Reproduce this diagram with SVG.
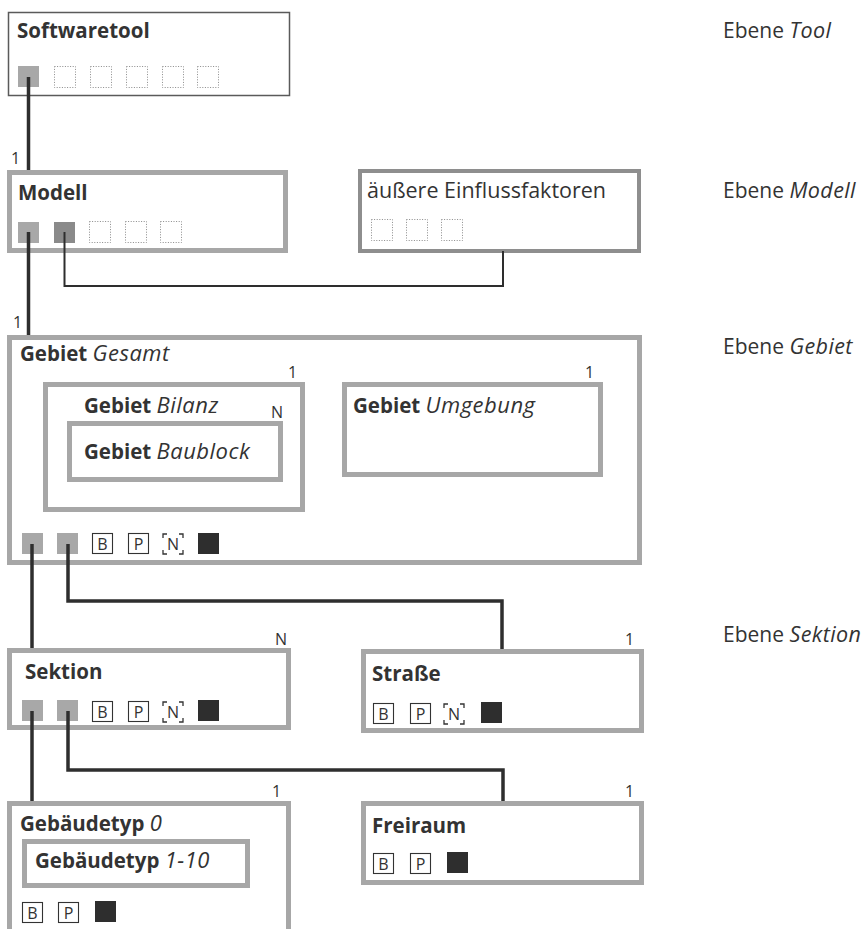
<svg xmlns="http://www.w3.org/2000/svg" width="865" height="929" viewBox="0 0 865 929">
  <style>
    text { font-family: "Open Sans", "Noto Sans", "DejaVu Sans", sans-serif; fill: #333; }
    .title { font-size: 20.5px; font-weight: bold; }
    .title tspan.i { font-weight: normal; font-style: italic; font-size: 22px; letter-spacing: 0.5px; }
    .plain { font-size: 21.5px; }
    .level { font-size: 21px; }
    .level tspan { font-style: italic; font-size: 21.5px; letter-spacing: 0.4px; }
    .mult { font-size: 16px; }
    .box { fill: #fff; stroke: #a7a7a7; stroke-width: 5; }
    .box-ext { fill: #fff; stroke: #8e8e8e; stroke-width: 4; }
    .box-tool { fill: #fff; stroke: #5a5a5a; stroke-width: 1.5; }
    .port { fill: #a8a8a8; }
    .port-dark { fill: #8a8a8a; }
    .slot { fill: none; stroke: #8a8a8a; stroke-width: 1; stroke-dasharray: 1 1.6; }
    .tag { fill: #fff; stroke: #333; stroke-width: 1.1; }
    .tag-letter { font-size: 16px; text-anchor: middle; }
    .corner { fill: none; stroke: #333; stroke-width: 1.3; }
    .solid { fill: #2e2e2e; }
    .link { fill: none; stroke: #2e2e2e; stroke-width: 3.5; }
    .link-thin { fill: none; stroke: #2e2e2e; stroke-width: 2; }
  </style>
  <defs>
    <g id="slot"><rect class="slot" x="0.5" y="0.5" width="21" height="21"/></g>
    <g id="tagB"><rect class="tag" x="0.5" y="0.5" width="20" height="20"/><text class="tag-letter" x="10.5" y="16.5">B</text></g>
    <g id="tagP"><rect class="tag" x="0.5" y="0.5" width="20" height="20"/><text class="tag-letter" x="10.5" y="16.5">P</text></g>
    <g id="tagN">
      <path class="corner" d="M1 5 V1 H5 M17 1 H21 V5 M21 17 V21 H17 M5 21 H1 V17"/>
      <text class="tag-letter" x="11" y="16.5">N</text>
    </g>
    <g id="solid"><rect class="solid" x="0" y="0" width="21" height="21"/></g>
  </defs>

  <!-- level captions -->
  <g id="levels">
    <text class="level" x="723" y="38">Ebene <tspan>Tool</tspan></text>
    <text class="level" x="723" y="198">Ebene <tspan>Modell</tspan></text>
    <text class="level" x="723" y="354">Ebene <tspan>Gebiet</tspan></text>
    <text class="level" x="723" y="642">Ebene <tspan>Sektion</tspan></text>
  </g>

  <g id="softwaretool">
    <rect class="box-tool" x="8.5" y="12.5" width="281" height="83"/>
    <text class="title" x="17" y="38">Softwaretool</text>
    <rect class="port" x="18" y="66" width="21" height="21"/>
    <use href="#slot" x="54" y="66"/>
    <use href="#slot" x="90" y="66"/>
    <use href="#slot" x="126" y="66"/>
    <use href="#slot" x="162" y="66"/>
    <use href="#slot" x="197" y="66"/>
  </g>

  <g id="modell">
    <rect class="box" x="9.5" y="172.5" width="276" height="78"/>
    <text class="title" x="18" y="200">Modell</text>
    <rect class="port" x="18" y="222" width="21" height="21"/>
    <rect class="port-dark" x="54" y="222" width="21" height="21"/>
    <use href="#slot" x="89" y="221"/>
    <use href="#slot" x="125" y="221"/>
    <use href="#slot" x="160" y="221"/>
  </g>

  <g id="einflussfaktoren">
    <rect class="box-ext" x="360" y="171" width="279" height="80"/>
    <text class="plain" x="367" y="198">äußere Einflussfaktoren</text>
    <use href="#slot" x="371" y="219"/>
    <use href="#slot" x="406" y="219"/>
    <use href="#slot" x="441" y="219"/>
  </g>

  <g id="gebiet-gesamt">
    <rect class="box" x="9.5" y="337.5" width="630" height="225"/>
    <text class="title" x="20" y="361">Gebiet <tspan class="i">Gesamt</tspan></text>
    <rect class="port" x="22" y="533" width="21" height="21"/>
    <rect class="port" x="57" y="533" width="21" height="21"/>
    <use href="#tagB" x="92" y="533"/>
    <use href="#tagP" x="128" y="533"/>
    <use href="#tagN" x="162" y="533"/>
    <use href="#solid" x="198" y="533"/>
  </g>

  <g id="gebiet-bilanz">
    <rect class="box" x="45.5" y="384.5" width="257" height="125"/>
    <text class="mult" x="288" y="378">1</text>
    <text class="title" x="84" y="413">Gebiet <tspan class="i">Bilanz</tspan></text>
    <text class="mult" x="271" y="418">N</text>
  </g>

  <g id="gebiet-baublock">
    <rect class="box" x="69.5" y="423.5" width="211" height="56"/>
    <text class="title" x="84" y="459">Gebiet <tspan class="i">Baublock</tspan></text>
  </g>

  <g id="gebiet-umgebung">
    <rect class="box" x="344.5" y="384.5" width="256" height="90"/>
    <text class="mult" x="585" y="378">1</text>
    <text class="title" x="353" y="413">Gebiet <tspan class="i">Umgebung</tspan></text>
  </g>

  <g id="sektion">
    <rect class="box" x="9.5" y="650.5" width="279" height="77"/>
    <text class="mult" x="275" y="645">N</text>
    <text class="title" x="25" y="679">Sektion</text>
    <rect class="port" x="22" y="700" width="21" height="21"/>
    <rect class="port" x="57" y="700" width="21" height="21"/>
    <use href="#tagB" x="92" y="701"/>
    <use href="#tagP" x="128" y="701"/>
    <use href="#tagN" x="162" y="701"/>
    <use href="#solid" x="198" y="700"/>
  </g>

  <g id="strasse">
    <rect class="box" x="363.5" y="651.5" width="278" height="79"/>
    <text class="mult" x="625" y="645">1</text>
    <text class="title" x="372" y="681">Straße</text>
    <use href="#tagB" x="373" y="703"/>
    <use href="#tagP" x="410" y="703"/>
    <use href="#tagN" x="443" y="703"/>
    <use href="#solid" x="481" y="702"/>
  </g>

  <g id="gebaeudetyp-0">
    <rect class="box" x="9.5" y="803.5" width="279" height="140"/>
    <text class="mult" x="272" y="797">1</text>
    <text class="title" x="20" y="831">Gebäudetyp <tspan class="i">0</tspan></text>
    <use href="#tagB" x="22" y="902"/>
    <use href="#tagP" x="58" y="902"/>
    <use href="#solid" x="95" y="901"/>
  </g>

  <g id="gebaeudetyp-1-10">
    <rect class="box" x="24.5" y="841.5" width="223" height="44"/>
    <text class="title" x="35" y="868">Gebäudetyp <tspan class="i">1-10</tspan></text>
  </g>

  <g id="freiraum">
    <rect class="box" x="363.5" y="803.5" width="278" height="79"/>
    <text class="mult" x="625" y="797">1</text>
    <text class="title" x="372" y="833">Freiraum</text>
    <use href="#tagB" x="373" y="853"/>
    <use href="#tagP" x="410" y="853"/>
    <use href="#solid" x="447" y="852"/>
  </g>

  <!-- connectors -->
  <g id="connectors">
    <path class="link" d="M28.5 77 V170"/>
    <text class="mult" x="11" y="164">1</text>
    <path class="link" d="M28.5 232 V335"/>
    <text class="mult" x="13" y="328">1</text>
    <path class="link-thin" d="M64.5 232 V286 H503 V251"/>
    <path class="link" d="M32 544 V648"/>
    <path class="link" d="M68 544 V601 H502 V649"/>
    <path class="link" d="M32 711 V801"/>
    <path class="link" d="M68 711 V770 H503 V801"/>
  </g>
</svg>
